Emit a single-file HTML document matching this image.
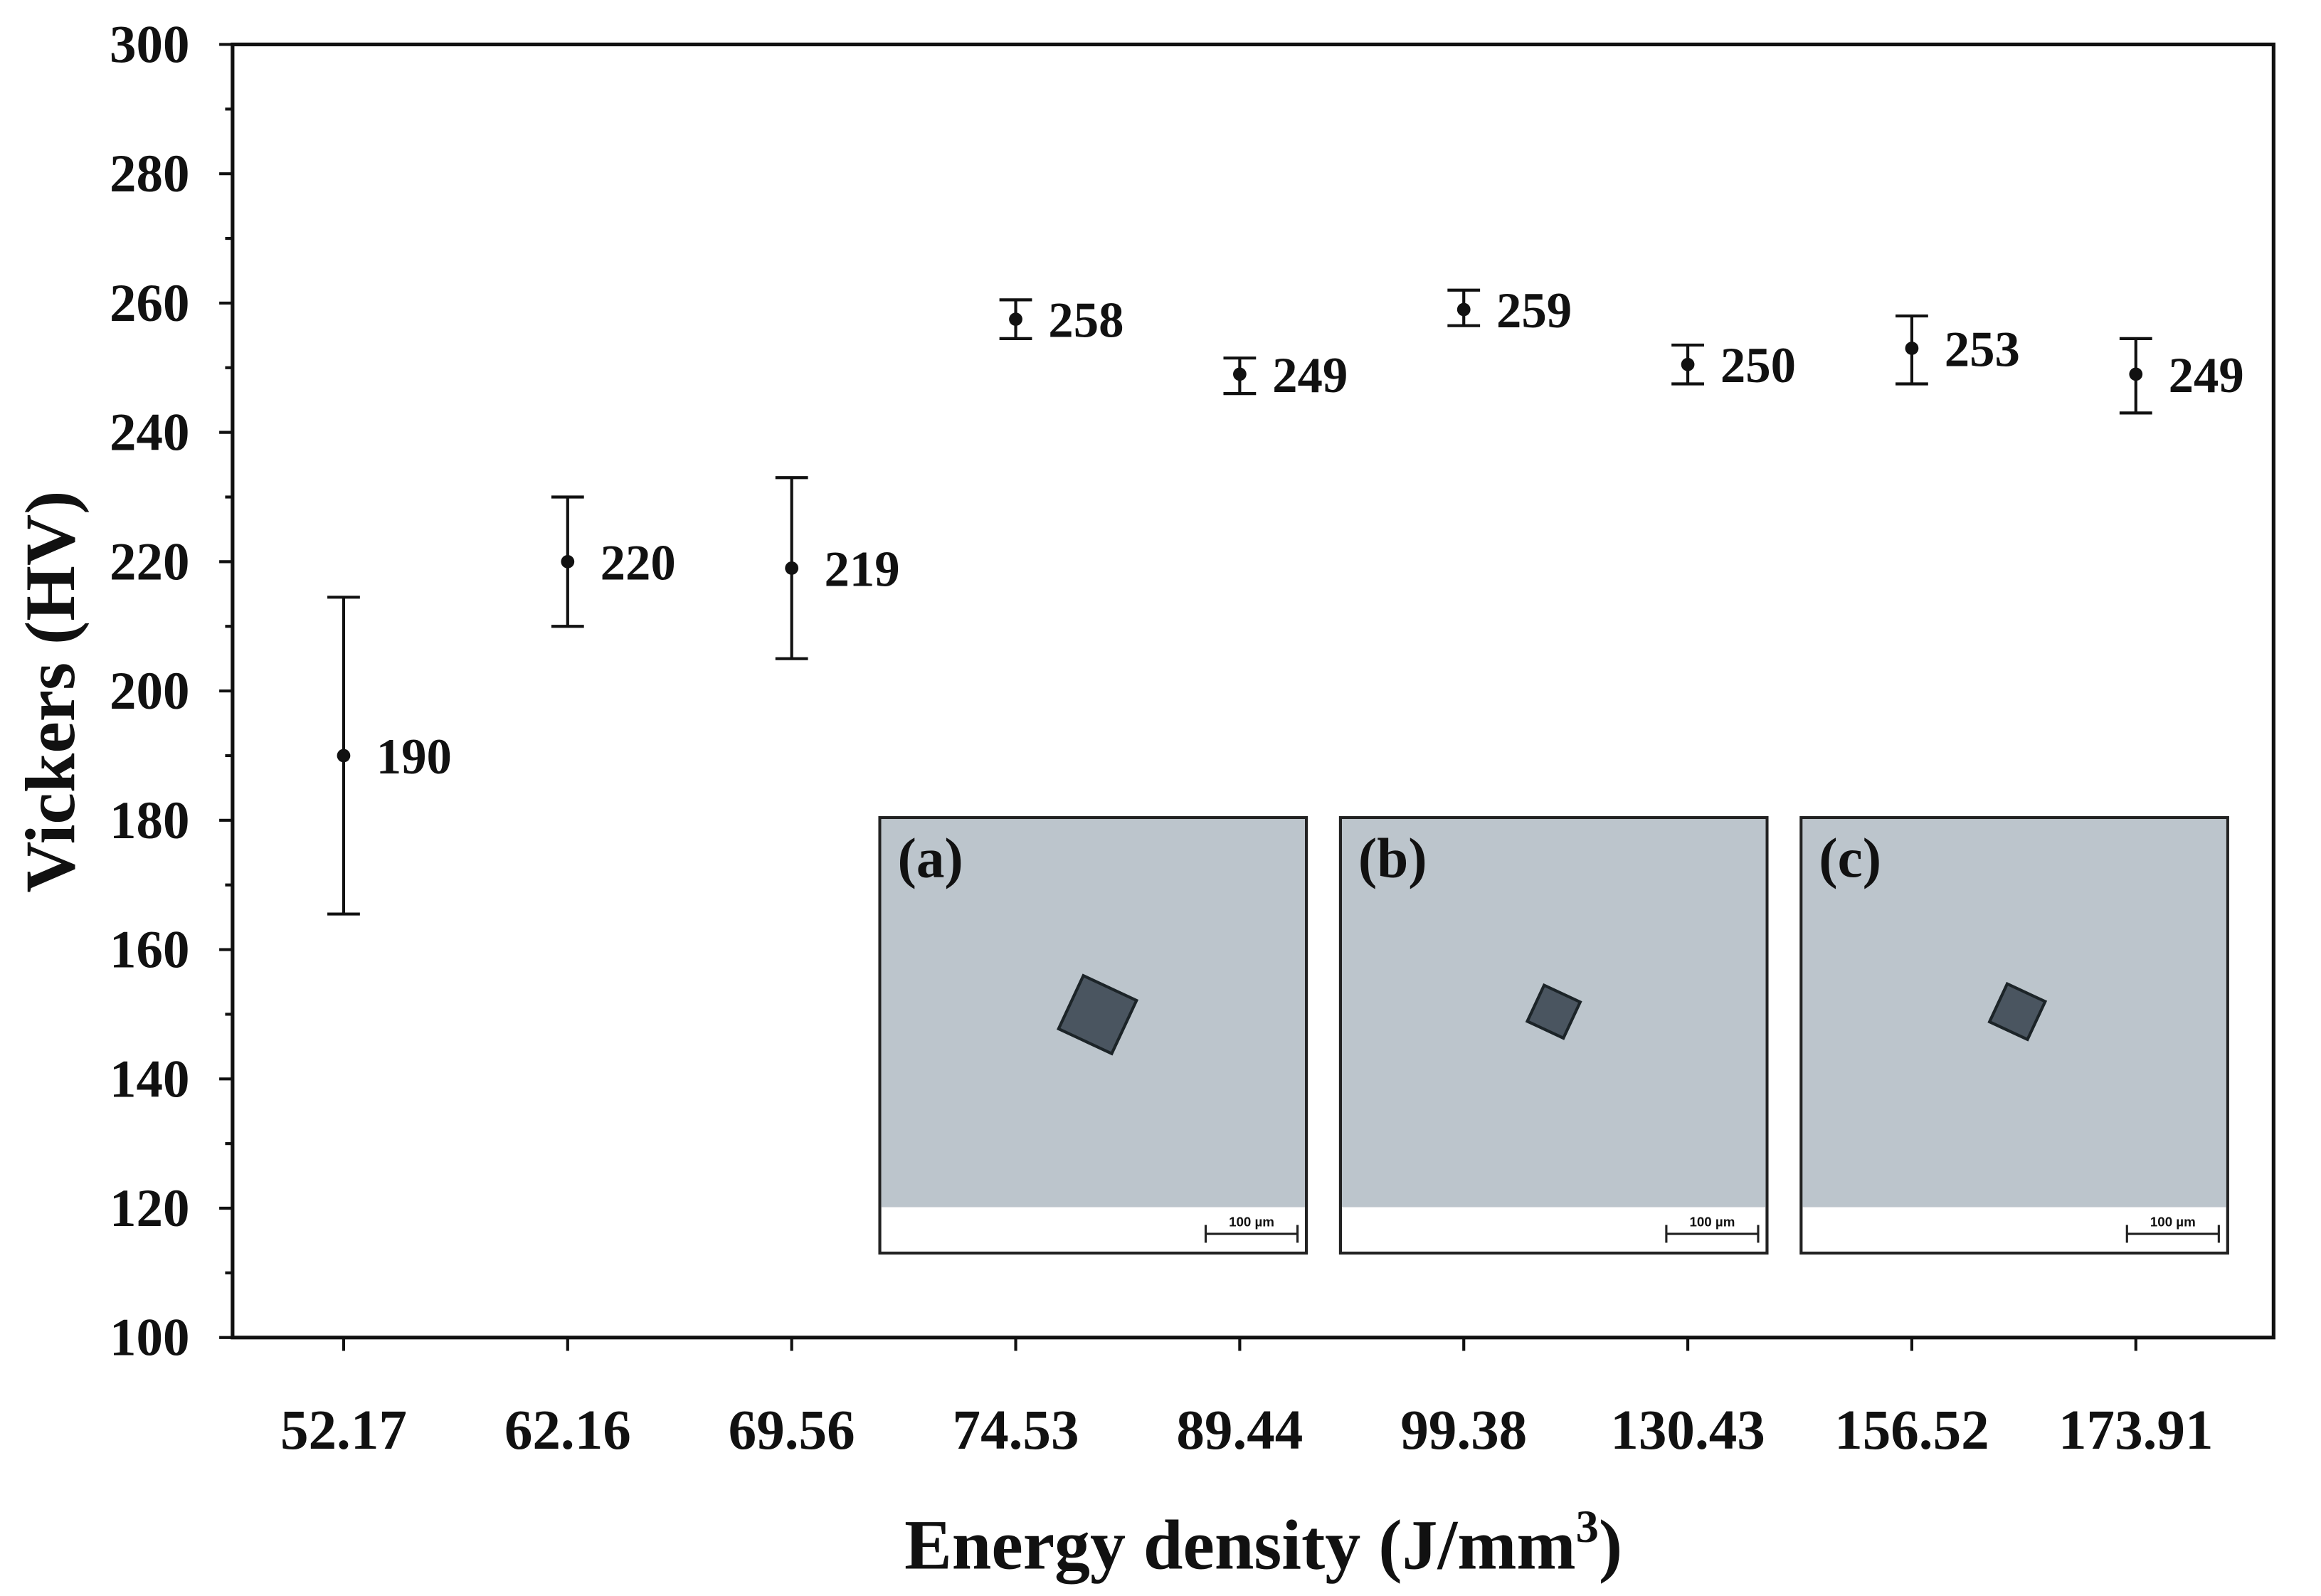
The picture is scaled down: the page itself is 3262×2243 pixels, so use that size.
<!DOCTYPE html>
<html><head><meta charset="utf-8"><style>
html,body{margin:0;padding:0;background:#fff}
svg{display:block}
text{font-family:"Liberation Serif",serif;font-weight:bold;fill:#111}
</style></head><body>
<svg id="chart" width="3262" height="2243" viewBox="0 0 1567 1077.5" xmlns="http://www.w3.org/2000/svg">
<g id="insets"></g>
<g id="axes"></g>
<g id="marks"></g>
</svg>
<script>
const categories=["52.17","62.16","69.56","74.53","89.44","99.38","130.43","156.52","173.91"];
const means=[190,220,219,257.5,249,259,250.5,253,249];
const errHigh=[214.5,230,233,260.5,251.5,262,253.5,258,254.5];
const errLow=[165.5,210,205,254.5,246,256.5,247.5,247.5,243];
const valueLabels=["190","220","219","258","249","259","250","253","249"];
const yTicks=[100,120,140,160,180,200,220,240,260,280,300];
const insetLabels=["(a)","(b)","(c)"];

const NS="http://www.w3.org/2000/svg";
const L=157,R=1535,T=30,B=903;
const yMin=100,yMax=300;
function yS(v){return B-(v-yMin)/(yMax-yMin)*(B-T);}
function xS(i){return 232+i*151.25;}
function mk(tag,attrs,parent,txt){const e=document.createElementNS(NS,tag);for(const k in attrs)e.setAttribute(k,attrs[k]);if(txt!==undefined)e.textContent=txt;parent.appendChild(e);return e;}
const axes=document.getElementById('axes'),marks=document.getElementById('marks'),ins=document.getElementById('insets');

const insetX=[594,905,1216];
insetX.forEach((x0,i)=>{
  const g=mk('g',{},ins);
  
  
  mk('rect',{x:x0,y:552,width:288,height:294,fill:'#fff',stroke:'#222','stroke-width':2},g);
  mk('rect',{x:x0+1,y:553,width:286,height:262,fill:'#bcc5cc'},g);
  const cx=x0+(i==0?147:i==1?144:146), cy=i==0?685:i==1?683:683, s=i==0?28:i==1?19:20;
  mk('polygon',{points:`${cx-s},${cy} ${cx},${cy-s} ${cx+s},${cy} ${cx},${cy+s}`,fill:'#4a5560',stroke:'#1c2428','stroke-width':2,transform:`rotate(-20 ${cx} ${cy})`},g);
  mk('line',{x1:x0+220,y1:833,x2:x0+282,y2:833,stroke:'#222','stroke-width':1.5},g);
  mk('line',{x1:x0+220,y1:827,x2:x0+220,y2:839,stroke:'#222','stroke-width':1.5},g);
  mk('line',{x1:x0+282,y1:827,x2:x0+282,y2:839,stroke:'#222','stroke-width':1.5},g);
  mk('text',{x:x0+251,y:828,'font-size':9,'text-anchor':'middle',style:'font-family:"Liberation Sans",sans-serif'},g,'100 µm');
  const t=mk('text',{x:x0+12,y:592,'font-size':38},g,insetLabels[i]);
  
  
});

const fr=mk('rect',{x:L,y:T,width:R-L,height:B-T,fill:'none',stroke:'#111','stroke-width':2.5},axes);


for(let v=yMin;v<=yMax;v+=10){
  const major=(v%20===0);
  mk('line',{x1:L,x2:L-(major?9:5),y1:yS(v),y2:yS(v),stroke:'#111','stroke-width':2},axes);
}
yTicks.forEach(v=>{
  const t=mk('text',{x:L-29,y:yS(v)+12,'font-size':36,'text-anchor':'end'},axes,String(v));
  
  
});
categories.forEach((c,i)=>{
  mk('line',{x1:xS(i),x2:xS(i),y1:B,y2:B+9,stroke:'#111','stroke-width':2},axes);
  const t=mk('text',{x:xS(i),y:978,'font-size':38,'text-anchor':'middle'},axes,c);
  
  
});
const yt=mk('text',{x:50,y:467,'font-size':48,'text-anchor':'middle',transform:'rotate(-90 50 467)'},axes,'Vickers (HV)');


const xt=mk('text',{x:853,y:1059,'font-size':48,'text-anchor':'middle'},axes);


xt.innerHTML='Energy density (J/mm<tspan dy="-18" font-size="31">3</tspan><tspan dy="18">)</tspan>';

means.forEach((m,i)=>{
  const x=xS(i);
  const g=mk('g',{},marks);
  
  
  mk('line',{x1:x,x2:x,y1:yS(errHigh[i]),y2:yS(errLow[i]),stroke:'#111','stroke-width':2},g);
  mk('line',{x1:x-11,x2:x+11,y1:yS(errHigh[i]),y2:yS(errHigh[i]),stroke:'#111','stroke-width':2},g);
  mk('line',{x1:x-11,x2:x+11,y1:yS(errLow[i]),y2:yS(errLow[i]),stroke:'#111','stroke-width':2},g);
  mk('circle',{cx:x,cy:yS(m),r:4.5,fill:'#111'},g);
  const t=mk('text',{x:x+22,y:yS(m)+12,'font-size':34},g,valueLabels[i]);
  
  
});
</script>
</body></html>
